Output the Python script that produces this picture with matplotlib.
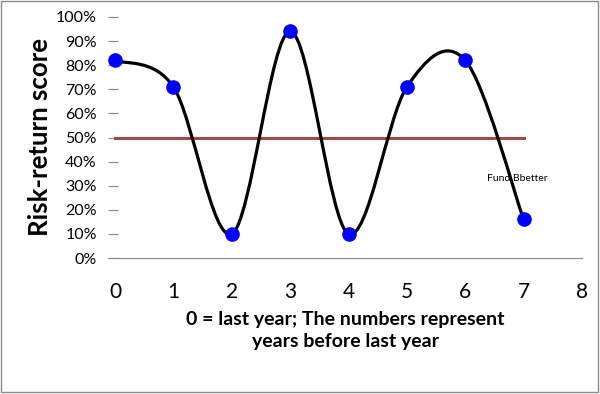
import numpy as np
import matplotlib.pyplot as plt
from matplotlib.path import Path
from matplotlib.patches import PathPatch, Rectangle

# Data
years = [0, 1, 2, 3, 4, 5, 6, 7]
score = [0.82, 0.71, 0.10, 0.94, 0.10, 0.71, 0.82, 0.16]
threshold_x = [0, 7]
threshold_y = [0.5, 0.5]
xtick_labels = ['0', '1', '2', '3', '4', '5', '6', '7', '8']
ytick_vals = [0, 0.1, 0.2, 0.3, 0.4, 0.5, 0.6, 0.7, 0.8, 0.9, 1.0]

plt.rcParams['font.family'] = ['Lato', 'DejaVu Sans']

fig = plt.figure(figsize=(6.0, 3.94), dpi=100)
ax = fig.add_axes([108 / 600, 1 - 258 / 394, 474 / 600, 241 / 394])


# Excel style smoothed line: cubic bezier, control points from neighbours
def smooth_path(xs, ys):
    pts = np.column_stack([xs, ys]).astype(float)
    n = len(pts)
    verts = [pts[0]]
    codes = [Path.MOVETO]
    for i in range(n - 1):
        p0 = pts[i - 1] if i > 0 else pts[i]
        p1 = pts[i]
        p2 = pts[i + 1]
        p3 = pts[i + 2] if i + 2 < n else pts[i + 1]
        c1 = p1 + (p2 - p0) / 6.0
        c2 = p2 - (p3 - p1) / 6.0
        verts += [c1, c2, p2]
        codes += [Path.CURVE4] * 3
    return Path(verts, codes)


ax.add_patch(PathPatch(smooth_path(years, score), facecolor='none',
                       edgecolor='black', lw=2.3, zorder=3))
ax.plot(threshold_x, threshold_y, color='#9E4B48', lw=2.2, zorder=2)
ax.plot(years, score, 'o', color='#0000FF', markersize=9.5, zorder=4)

ax.text(6.9, 0.33, 'Fund Bbetter', fontsize=7.5, ha='center', va='center',
        zorder=5)

ax.set_xlim(-0.12, 8)
ax.set_ylim(0, 1)
ax.set_yticks(ytick_vals)
ax.set_yticklabels([f'{int(round(v * 100))}%' for v in ytick_vals],
                   fontsize=11.5)
ax.set_xticks(range(9))
ax.set_xticklabels(xtick_labels, fontsize=15)
ax.set_xticks(years[1:], minor=True)
ax.tick_params(axis='x', which='major', length=0, pad=17)
ax.tick_params(axis='x', which='minor', length=5, direction='out',
               color='#888888', width=1)
ax.tick_params(axis='y', length=7, direction='in', color='#888888', pad=8)

for side in ['top', 'right', 'left']:
    ax.spines[side].set_visible(False)
ax.spines['bottom'].set_color('#888888')

ax.set_xlabel('0 = last year; The numbers represent\nyears before last year',
              fontsize=14, fontweight='bold', labelpad=7, linespacing=1.3)
ax.set_ylabel('Risk-return score', fontsize=18.5, fontweight='bold',
              labelpad=3)

fig.patches.append(Rectangle((0.002, 0.004), 0.994, 0.994,
                             transform=fig.transFigure, fill=False,
                             edgecolor='#8C8C8C', lw=1))

fig.savefig('out.png', dpi=100)
